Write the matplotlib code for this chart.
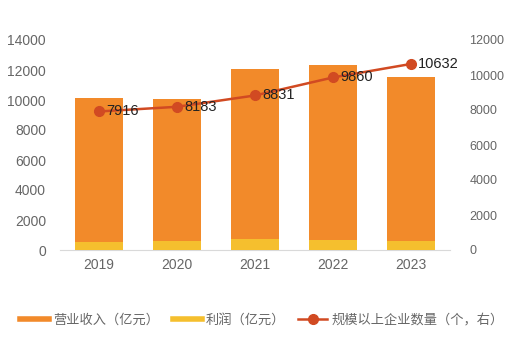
import matplotlib
matplotlib.use("Agg")
import matplotlib.pyplot as plt
from matplotlib.lines import Line2D

plt.rcParams['font.family'] = ['Liberation Sans', 'Noto Sans CJK SC', 'DejaVu Sans']

years = ["2019", "2020", "2021", "2022", "2023"]
revenue = [10150, 10070, 12070, 12310, 11550]
profit = [510, 600, 710, 670, 600]
companies = [7916, 8183, 8831, 9860, 10632]

c_rev = "#F28A2A"
c_pro = "#F5BF2E"
c_line = "#D14A22"
gray = "#666666"

fig = plt.figure(figsize=(5.24, 3.37), dpi=100)
ax = fig.add_axes([60/524, 1-250/337, 390/524, 210/337])
x = list(range(len(years)))
ax.bar(x, revenue, width=0.62, color=c_rev, zorder=2)
ax.bar(x, profit, width=0.62, color=c_pro, zorder=3)
ax.set_xlim(-0.5, 4.5)
ax.set_ylim(0, 14000)
ax.set_yticks(range(0, 14001, 2000))
ax.set_xticks(x)
ax.set_xticklabels(years)
for s in ["top", "right", "left"]:
    ax.spines[s].set_visible(False)
ax.spines["bottom"].set_color("#D9D9D9")
ax.tick_params(axis="both", length=0, colors=gray, labelsize=10)
ax.tick_params(axis="y", pad=10)
ax.tick_params(axis="x", pad=6)

ax2 = ax.twinx()
ax2.plot(x, companies, color=c_line, lw=1.8, marker="o", ms=7, zorder=5)
ax2.set_ylim(0, 12000)
ax2.set_yticks(range(0, 12001, 2000))
for s in ["top", "right", "left", "bottom"]:
    ax2.spines[s].set_visible(False)
ax2.tick_params(axis="y", length=0, colors=gray, labelsize=9, pad=14)
for xi, v in zip(x, companies):
    ax2.annotate(str(v), (xi, v), xytext=(5, 0), textcoords="offset points",
                 ha="left", va="center", fontsize=10.5, color="#222222", zorder=6)

handles = [Line2D([], [], color=c_rev, lw=4),
           Line2D([], [], color=c_pro, lw=4),
           Line2D([], [], color=c_line, lw=1.8, marker="o", ms=7)]
labels = ["营业收入（亿元）", "利润（亿元）", "规模以上企业数量（个，右）"]
fig.legend(handles, labels, loc="center", bbox_to_anchor=(0.5, 1-320/337), ncol=3,
           frameon=False, fontsize=9.5, handlelength=2.2, columnspacing=1.0,
           handletextpad=0.3, labelcolor=gray)

fig.savefig("out.png", dpi=100)
